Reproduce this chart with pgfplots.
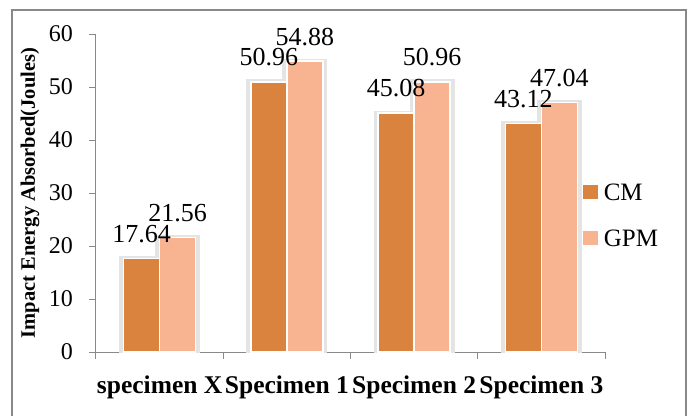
\documentclass[border=0pt]{standalone}
\usepackage{fontspec}
\setmainfont{Liberation Serif}
\usepackage{pgfplots}
\pgfplotsset{compat=1.18}
\definecolor{cmcol}{RGB}{218,131,63}
\definecolor{gpmcol}{RGB}{248,180,144}
\definecolor{halo}{RGB}{228,228,228}
\definecolor{axgray}{RGB}{137,137,137}
\begin{document}
\begin{tikzpicture}[x=1bp,y=1bp]
\path[use as bounding box] (-96,-63) rectangle (594,352);
\draw[axgray, line width=1.2bp] (-84,-70) rectangle (590,342);
\begin{axis}[
  at={(0,0)}, anchor=south west,
  scale only axis, width=509bp, height=318bp,
  ybar,
  xmin=-0.5, xmax=3.5, ymin=0, ymax=60,
  axis x line*=bottom, axis y line*=left,
  axis line style={draw=axgray, line width=1bp, -},
  ytick={0,10,20,30,40,50,60},
  xtick={0,1,2,3},
  xticklabels={specimen X,Specimen 1,Specimen 2,Specimen 3},
  minor xtick={-0.5,0.5,1.5,2.5,3.5},
  major x tick style={draw=none},
  minor tick length=7bp, major tick length=7bp,
  tick align=outside,
  tick style={draw=axgray, line width=1bp},
  /pgf/number format/assume math mode=true,
  yticklabel style={font=\fontsize{24bp}{28bp}\selectfont, inner sep=0pt, anchor=east, xshift=-16bp},
  xticklabel style={font=\fontsize{25.5bp}{28bp}\selectfont\bfseries, inner sep=0pt, anchor=base, yshift=-34bp},
  ylabel={Impact Energy Absorbed(Joules)},
  ylabel style={font=\fontsize{20.5bp}{24bp}\selectfont\bfseries, at={(axis description cs:-0.1297,0.5)}, anchor=center, inner sep=0pt},
  clip=true,
  legend style={at={(0.957,0.431)}, anchor=west, draw=none, fill=none, inner sep=0pt,
    font=\fontsize{25bp}{28bp}\selectfont,
    nodes={inner sep=0pt, text height=17bp, text depth=0pt},
    row sep=29bp, column sep=6bp},
  legend cell align=left,
  nodes near coords style={font=\fontsize{26bp}{30bp}\selectfont, anchor=south, inner sep=0pt, yshift=15bp, black},
]
\addplot[bar width=40bp, bar shift=-18bp, fill=halo, draw=halo, line width=5bp, forget plot]
  coordinates {(0,17.64) (1,50.96) (2,45.08) (3,43.12)};
\addplot[bar width=40bp, bar shift=18bp, fill=halo, draw=halo, line width=5bp, forget plot]
  coordinates {(0,21.56) (1,54.88) (2,50.96) (3,47.04)};
\addplot[bar width=36bp, bar shift=-18bp, fill=cmcol, draw=white, line width=1.5bp,
  legend image code/.code={\fill[cmcol] (0bp,-6.5bp) rectangle (13bp,6.5bp);},
  nodes near coords, point meta=explicit symbolic]
  coordinates {(0,17.64)[17.64] (1,50.96)[50.96] (2,45.08)[45.08] (3,43.12)[43.12]};
\addlegendentry{CM}
\addplot[bar width=36bp, bar shift=18bp, fill=gpmcol, draw=white, line width=1.5bp,
  legend image code/.code={\fill[gpmcol] (0bp,-6.5bp) rectangle (13bp,6.5bp);},
  nodes near coords, point meta=explicit symbolic]
  coordinates {(0,21.56)[21.56] (1,54.88)[54.88] (2,50.96)[50.96] (3,47.04)[47.04]};
\addlegendentry{GPM}
\end{axis}
\end{tikzpicture}
\end{document}
